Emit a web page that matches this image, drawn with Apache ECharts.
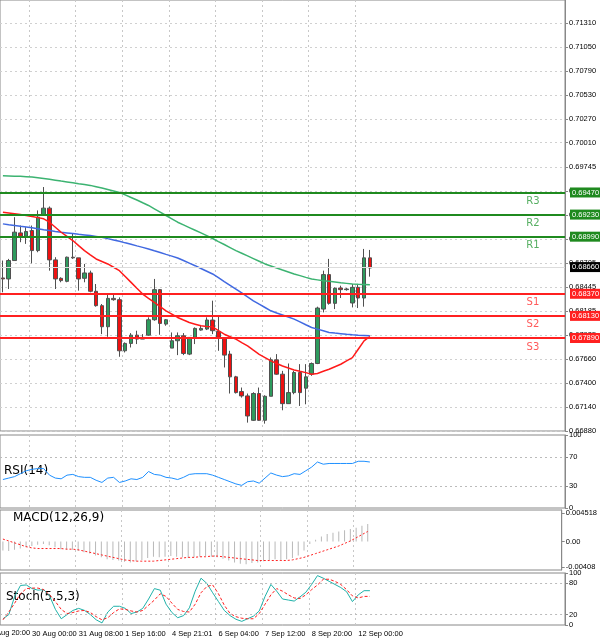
<!DOCTYPE html>
<html>
<head>
<meta charset="UTF-8">
<title>AUDUSD H4</title>
<script src="https://cdn.jsdelivr.net/npm/echarts@6/dist/echarts.min.js"></script>
<style>
  html,body{margin:0;padding:0;background:#fff;}
  #chart{width:600px;height:642px;}
</style>
</head>
<body>
<div id="chart"></div>
<script>
// bars: [open, close, low, high]
var candles = [
  [0.68542,0.68531,0.68386,0.68731],[0.68531,0.68731,0.68422,0.68749],[0.68731,0.69039,0.68731,0.69202],[0.69031,0.68995,0.68930,0.69111],
  [0.68995,0.69046,0.68912,0.69093],[0.69057,0.68839,0.68701,0.69111],[0.68839,0.69202,0.68821,0.69275],[0.69220,0.69300,0.69220,0.69529],
  [0.69300,0.68738,0.68621,0.69318],[0.68738,0.68531,0.68422,0.68767],[0.68538,0.68513,0.68495,0.68549],[0.68505,0.68767,0.68495,0.68774],
  [0.68767,0.68760,0.68749,0.69020],[0.68760,0.68531,0.68404,0.68760],[0.68538,0.68596,0.68495,0.68694],[0.68596,0.68397,0.68386,0.68621],
  [0.68397,0.68241,0.68230,0.68476],[0.68241,0.68012,0.67932,0.68259],[0.68012,0.68320,0.67903,0.68368],[0.68320,0.68306,0.68295,0.68368],
  [0.68306,0.67751,0.67686,0.68331],[0.67751,0.67831,0.67733,0.67842],[0.67831,0.67921,0.67787,0.67943],[0.67921,0.67878,0.67824,0.67969],
  [0.67896,0.67878,0.67878,0.67932],[0.67921,0.68088,0.67914,0.68114],[0.68088,0.68415,0.68077,0.68531],[0.68415,0.68048,0.67925,0.68422],
  [0.68041,0.68088,0.68023,0.68096],[0.67780,0.67860,0.67780,0.67950],[0.67860,0.67914,0.67704,0.67950],[0.67914,0.67722,0.67704,0.67943],
  [0.67715,0.67896,0.67704,0.67896],[0.67896,0.67994,0.67824,0.68005],[0.67976,0.67994,0.67969,0.68023],[0.67987,0.68085,0.67976,0.68114],
  [0.68085,0.67969,0.67932,0.68295],[0.67961,0.67896,0.67751,0.68125],[0.67889,0.67704,0.67570,0.67896],[0.67715,0.67468,0.67287,0.67751],
  [0.67468,0.67297,0.67287,0.67479],[0.67308,0.67261,0.67243,0.67352],[0.67261,0.67043,0.66971,0.67287],[0.66996,0.67287,0.66989,0.67301],
  [0.67287,0.66996,0.66989,0.67352],[0.66996,0.67257,0.66960,0.67268],[0.67257,0.67653,0.67257,0.67678],[0.67653,0.67497,0.67490,0.67715],
  [0.67497,0.67177,0.67105,0.67533],[0.67177,0.67297,0.67177,0.67613],[0.67297,0.67515,0.67279,0.67533],[0.67515,0.67297,0.67152,0.67606],
  [0.67345,0.67468,0.67170,0.67606],[0.67497,0.67613,0.67479,0.67624],[0.67613,0.68215,0.67606,0.68230],[0.68204,0.68578,0.68168,0.68621],
  [0.68578,0.68266,0.68252,0.68749],[0.68266,0.68429,0.68204,0.68440],[0.68433,0.68415,0.68324,0.68458],[0.68415,0.68422,0.68404,0.68433],
  [0.68270,0.68440,0.68222,0.68476],[0.68440,0.68324,0.68215,0.68476],[0.68324,0.68760,0.68230,0.68857],[0.68760,0.68650,0.68556,0.68846]
];
var maSlow = [.69652,.69650,.69647,.69645,.69641,.69637,.69630,.69622,.69613,.69604,.69594,.69585,.69576,.69566,.69557,
  .69547,.69533,.69518,.69502,.69486,.69470,.69444,.69416,.69388,.69358,.69329,.69293,.69257,.69220,.69184,
  .69147,.69118,.69089,.69060,.69031,.69002,.68970,.68937,.68905,.68872,.68839,.68810,.68781,.68752,.68723,
  .68694,.68672,.68650,.68628,.68607,.68585,.68567,.68548,.68530,.68521,.68512,.68505,.68498,.68490,.68483,
  .68476,.68473,.68471,.68469];
var maMid = [.69129,.69120,.69112,.69103,.69095,.69086,.69076,.69066,.69057,.69047,.69038,.69031,.69024,.69016,.69009,
  .69002,.68993,.68984,.68969,.68955,.68940,.68923,.68907,.68890,.68874,.68857,.68837,.68818,.68798,.68779,
  .68759,.68731,.68703,.68675,.68645,.68615,.68585,.68545,.68503,.68462,.68421,.68379,.68336,.68294,.68257,
  .68221,.68185,.68162,.68140,.68117,.68095,.68065,.68034,.68004,.67986,.67968,.67950,.67943,.67937,.67930,
  .67924,.67920,.67917,.67913];
var maFast = [.69256,.69248,.69240,.69231,.69220,.69209,.69197,.69184,.69147,.69093,.69038,.68993,.68948,.68893,.68839,
  .68793,.68748,.68721,.68694,.68658,.68621,.68558,.68494,.68430,.68367,.68321,.68276,.68230,.68185,.68149,
  .68113,.68085,.68058,.68040,.68022,.68016,.68011,.67971,.67931,.67904,.67877,.67840,.67804,.67758,.67713,
  .67677,.67641,.67613,.67586,.67564,.67543,.67528,.67514,.67496,.67505,.67528,.67550,.67578,.67605,.67641,
  .67677,.67768,.67859,.67906];
var pivots = [['R3',0.69470],['R2',0.69230],['R1',0.68990],['S1',0.68370],['S2',0.68130],['S3',0.67890]];
var lastPrice = 0.68660;
var priceTicks = [0.66880,0.67140,0.67400,0.67660,0.67925,0.68185,0.68445,0.68705,0.68965,0.69225,0.69485,
  0.69745,0.70010,0.70270,0.70530,0.70790,0.71050,0.71310];
var rsi = [39,41,43,47,51,53,54,54,45,41,40,45,46,43,42,42,38,35,41,42,35,37,40,39,42,50,46,45,42,41,
  39,42,46,47,47,47,45,42,39,36,33,31,36,37,34,41,48,45,43,44,47,46,51,56,63,60,61,61,61,61,61,64,64,63];
var macdHist = [-0.0014,-0.0015,-0.0013,-0.0011,-0.0009,-0.0007,-0.0005,-0.0004,-0.0006,-0.0009,-0.0012,-0.0013,-0.0013,
  -0.0015,-0.0017,-0.0019,-0.0022,-0.0025,-0.0028,-0.0029,-0.0030,-0.0032,-0.0033,-0.0031,-0.0029,-0.0026,-0.0024,
  -0.0025,-0.0024,-0.0023,-0.0024,-0.0025,-0.0026,-0.0025,-0.0024,-0.0023,-0.0024,-0.0025,-0.0027,-0.0030,-0.0033,
  -0.0035,-0.0036,-0.0034,-0.0033,-0.0031,-0.0029,-0.0028,-0.0029,-0.0028,-0.0026,-0.0022,-0.0014,-0.0004,0.0003,
  0.0008,0.0012,0.0014,0.0016,0.0018,0.0020,0.0022,0.0025,0.0028];
var macdSignal = [0.0004,0.0001,-0.0002,-0.0005,-0.0008,-0.0010,-0.0011,-0.0011,-0.0011,-0.0011,-0.0011,-0.0012,-0.0012,
  -0.0013,-0.0015,-0.0017,-0.0019,-0.0021,-0.0023,-0.0025,-0.0027,-0.0029,-0.0030,-0.0031,-0.0031,-0.0031,-0.0031,
  -0.0030,-0.0029,-0.0028,-0.0027,-0.0026,-0.0025,-0.0025,-0.0024,-0.0024,-0.0023,-0.0023,-0.0024,-0.0025,-0.0026,
  -0.0027,-0.0028,-0.0029,-0.0030,-0.0030,-0.0030,-0.0030,-0.0030,-0.0030,-0.0029,-0.0027,-0.0025,-0.0022,-0.0019,
  -0.0016,-0.0013,-0.0010,-0.0007,-0.0003,0.0001,0.0006,0.0011,0.0016];
var stochMain = [12,20,55,76,77,70,67,68,56,30,12,20,28,32,28,20,10,4,25,36,36,32,22,25,32,50,70,67,40,24,
  14,18,33,65,90,80,62,45,28,18,11,7,12,17,27,55,78,65,50,48,46,54,63,78,95,90,84,78,72,64,45,58,66,66];
var stochSignal = [10,25,42,60,70,71,71,68,58,45,30,22,24,27,28,24,16,10,14,24,31,30,27,25,28,38,48,60,55,42,
  30,26,25,40,62,74,77,60,38,22,16,13,12,12,22,40,58,70,65,58,52,51,58,68,77,88,88,84,78,68,56,52,55,55];
var slotCount = 97;
var timeLabels = [[5,'30 Aug 00:00'],[13,'31 Aug 08:00'],[21,'1 Sep 16:00'],[29,'4 Sep 21:01'],
  [37,'6 Sep 04:00'],[45,'7 Sep 12:00'],[53,'8 Sep 20:00'],[61,'12 Sep 00:00']];

var labelAt = {};
timeLabels.forEach(function (t) { labelAt[t[0]] = t[1]; });
var cats = [];
for (var i = 0; i < slotCount; i++) cats.push(labelAt[i] || 'b' + i);

var font = 'DejaVu Sans, sans-serif';
var tickFont = 'Liberation Sans, Arial, sans-serif';
var isMark = function (i) { return labelAt[i] !== undefined; };

function xAx(idx, showLabel) {
  return {
    type: 'category', gridIndex: idx, data: cats, boundaryGap: true,
    axisLine: {show: false}, axisTick: {show: false},
    axisLabel: {show: showLabel, interval: 0, align: 'left',
      hideOverlap: false, fontSize: 7.5, color: '#000', fontFamily: tickFont, margin: 5,
      formatter: function (v) { return v.charAt(0) === 'b' ? '' : v; }},
    splitLine: {show: true, interval: function (i) { return isMark(i); },
      lineStyle: {color: '#c8c8c8', type: [2, 3]}}
  };
}
function yAx(idx, opt) {
  var base = {
    type: 'value', gridIndex: idx, position: 'right',
    axisLine: {show: true, lineStyle: {color: '#888'}},
    axisTick: {show: true, length: 3, lineStyle: {color: '#888'}},
    splitLine: {show: false}
  };
  for (var k in opt) base[k] = opt[k];
  return base;
}
function ticks(vals) {
  return {show: true, length: 3, customValues: vals, lineStyle: {color: '#888'}};
}
function lbls(vals, fmt) {
  return {fontSize: 7.5, color: '#000', fontFamily: tickFont, margin: 4, customValues: vals, formatter: fmt};
}

function levelLine(v, color, width) {
  return [
    {coord: [-Infinity, v], lineStyle: {color: color, width: width, type: 'solid'},
      label: {show: true, position: 'end', distance: 5, formatter: v.toFixed(5),
        backgroundColor: color, color: '#fff', fontSize: 7.5, padding: [1, 2], fontFamily: tickFont}},
    {coord: [Infinity, v]}
  ];
}
var pivotLines = [levelLine(lastPrice, '#000', 1)].concat(pivots.map(function (p) {
  return levelLine(p[1], p[0].charAt(0) === 'R' ? '#1f8a1f' : '#ff2020', 2);
}));
pivotLines[0][0].lineStyle = {color: '#dcdcdc', width: 1, type: 'solid'};

var pivotText = pivots.map(function (p) {
  return {value: [91, p[1]], name: p[0],
    label: {color: p[0].charAt(0) === 'R' ? '#2a9a3a' : '#ff3030'}};
});

var chart = echarts.init(document.getElementById('chart'));
chart.setOption({
  animation: false,
  backgroundColor: '#fff',
  textStyle: {fontFamily: font},
  grid: [
    {left: 0, width: 565, top: 0, height: 431, show: true, borderColor: '#888', borderWidth: 1},
    {left: 0, width: 565, top: 435, height: 73, show: true, borderColor: '#888', borderWidth: 1},
    {left: 0, width: 565, top: 510, height: 60, show: true, borderColor: '#888', borderWidth: 1},
    {left: 0, width: 565, top: 573, height: 52, show: true, borderColor: '#888', borderWidth: 1}
  ],
  xAxis: [xAx(0, false), xAx(1, false), xAx(2, false), xAx(3, true)],
  yAxis: [
    yAx(0, {min: 0.66880, max: 0.71560,
      axisLabel: lbls(priceTicks, function (v) { return v.toFixed(5); }),
      axisTick: ticks(priceTicks),
      splitLine: {show: true, lineStyle: {color: '#d0d0d0', type: [2, 3]}}}),
    yAx(1, {min: 0, max: 100, axisLabel: lbls([0, 30, 70, 100]), axisTick: ticks([0, 30, 70, 100])}),
    yAx(2, {min: -0.0045, max: 0.0050,
      axisLabel: lbls([-0.00408, 0, 0.004518], function (v) { return v === 0 ? '0.00' : String(v); }),
      axisTick: ticks([-0.00408, 0, 0.004518])}),
    yAx(3, {min: 0, max: 100, axisLabel: lbls([0, 20, 80, 100]), axisTick: ticks([0, 20, 80, 100])})
  ],
  series: [
    {type: 'candlestick', xAxisIndex: 0, yAxisIndex: 0, data: candles, barWidth: 4,
      itemStyle: {color: '#2e9b5e', color0: '#ee1111', borderColor: '#505050', borderColor0: '#505050', borderWidth: 1}},
    {type: 'line', data: maSlow, showSymbol: false, lineStyle: {color: '#3cb371', width: 1.5}, z: 3},
    {type: 'line', data: maMid, showSymbol: false, lineStyle: {color: '#4169e1', width: 1.5}, z: 3},
    {type: 'line', data: maFast, showSymbol: false, lineStyle: {color: '#ff1a1a', width: 1.5}, z: 3,
      markLine: {symbol: 'none', silent: true, data: pivotLines, animation: false}},
    {type: 'scatter', data: pivotText, symbolSize: 0, silent: true,
      label: {show: true, position: 'bottom', distance: 4, formatter: '{b}', fontSize: 10, fontFamily: font}},
    {type: 'line', xAxisIndex: 1, yAxisIndex: 1, data: rsi, showSymbol: false,
      lineStyle: {color: '#1e90ff', width: 1},
      markLine: {symbol: 'none', silent: true, label: {show: false},
        lineStyle: {color: '#bbb', type: [2, 3], width: 1}, data: [{yAxis: 30}, {yAxis: 70}]}},
    {type: 'bar', xAxisIndex: 2, yAxisIndex: 2, data: macdHist, barWidth: 1,
      itemStyle: {color: '#b8b8b8'}},
    {type: 'line', xAxisIndex: 2, yAxisIndex: 2, data: macdSignal, showSymbol: false,
      lineStyle: {color: '#ff2020', width: 1, type: [2, 2]}},
    {type: 'line', xAxisIndex: 3, yAxisIndex: 3, data: stochMain, showSymbol: false,
      lineStyle: {color: '#20b2aa', width: 1},
      markLine: {symbol: 'none', silent: true, label: {show: false},
        lineStyle: {color: '#bbb', type: [2, 3], width: 1}, data: [{yAxis: 20}, {yAxis: 80}]}},
    {type: 'line', xAxisIndex: 3, yAxisIndex: 3, data: stochSignal, showSymbol: false,
      lineStyle: {color: '#ff2020', width: 1, type: [3, 2]}}
  ],
  graphic: [
    {type: 'text', left: 4, top: 465, style: {text: 'RSI(14)', fontSize: 12, fill: '#000', fontFamily: font}},
    {type: 'text', left: 13, top: 512, style: {text: 'MACD(12,26,9)', fontSize: 12, fill: '#000', fontFamily: font}},
    {type: 'text', left: 6, top: 591, style: {text: 'Stoch(5,5,3)', fontSize: 12, fill: '#000', fontFamily: font}},
    {type: 'text', left: -4, top: 629, style: {text: 'Aug 20:00', fontSize: 7.5, fill: '#000', fontFamily: tickFont}}
  ]
});
</script>
</body>
</html>
